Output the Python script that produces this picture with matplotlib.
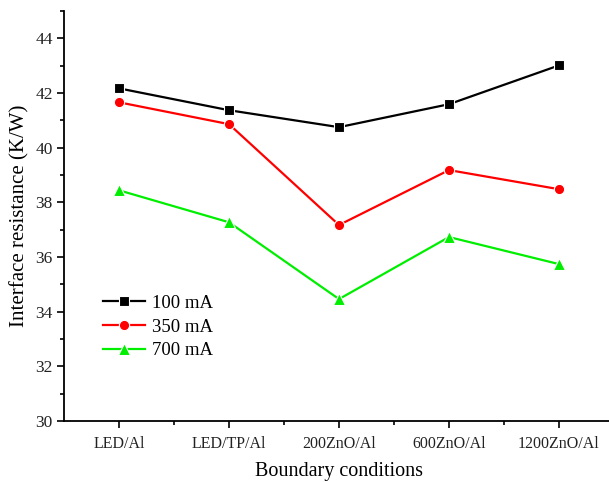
import numpy as np
import matplotlib
matplotlib.use("Agg")
import matplotlib.pyplot as plt
from matplotlib.ticker import MultipleLocator, FixedLocator

plt.rcParams['font.family'] = ['Liberation Serif', 'DejaVu Serif']

conditions = ["LED/Al", "LED/TP/Al", "200ZnO/Al", "600ZnO/Al", "1200ZnO/Al"]
r_100 = [42.17, 41.37, 40.75, 41.59, 43.01]
r_350 = [41.66, 40.86, 37.17, 39.18, 38.48]
r_700 = [38.44, 37.27, 34.46, 36.73, 35.74]

fig = plt.figure(figsize=(6.09, 4.82), dpi=100)
ax = fig.add_axes([64 / 609, 61 / 482, 550 / 609, 410 / 482])

x = np.arange(len(conditions))
ax.plot(x, r_100, color="black", lw=1.6, marker="s", ms=6.8, mec="white", mew=0.8, label="100 mA")
ax.plot(x, r_350, color="#ff0000", lw=1.6, marker="o", ms=7.4, mec="white", mew=0.8, label="350 mA")
ax.plot(x, r_700, color="#00ee00", lw=1.6, marker="^", ms=8.2, mec="white", mew=0.8, label="700 mA")

ax.set_xlim(-0.5, 4.5)
ax.set_ylim(30, 45)
ax.set_xticks(x)
ax.set_xticklabels(conditions)
ax.xaxis.set_minor_locator(FixedLocator(x[:-1] + 0.5))
ax.yaxis.set_major_locator(FixedLocator([30, 32, 34, 36, 38, 40, 42, 44]))
ax.yaxis.set_minor_locator(MultipleLocator(1))

ax.spines["top"].set_visible(False)
ax.spines["right"].set_visible(False)
for s in ("left", "bottom"):
    ax.spines[s].set_linewidth(1.3)

ax.tick_params(which="major", direction="out", length=5, width=1.2,
               labelsize=12.5, pad=3, labelcolor="#222222")
ax.tick_params(which="minor", direction="out", length=3, width=1.2)
ax.tick_params(axis="x", labelsize=11.5, pad=6)

ax.set_xlabel("Boundary conditions", fontsize=14.5, labelpad=7)
ax.set_ylabel("Interface resistance (K/W)", fontsize=15, labelpad=4)

ax.legend(loc="upper left", bbox_to_anchor=(0.071, 0.308), frameon=False, fontsize=13.5,
          handlelength=2.24, handletextpad=0.37, labelspacing=0.35,
          borderaxespad=0, borderpad=0)

fig.savefig("out.png", dpi=100)
